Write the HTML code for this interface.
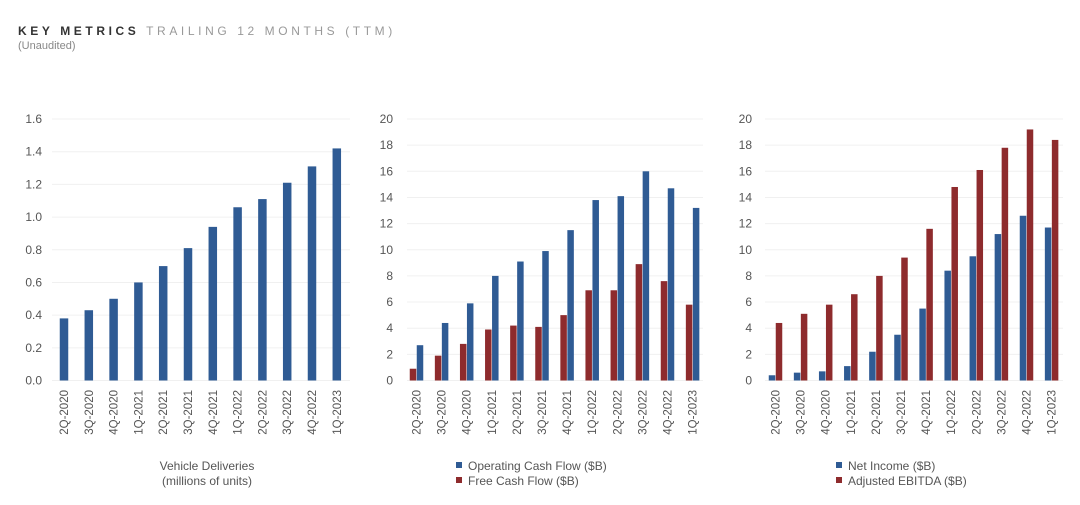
<!DOCTYPE html>
<html><head><meta charset="utf-8"><style>
body{margin:0;background:#fff;width:1080px;height:505px;overflow:hidden;font-family:"Liberation Sans",sans-serif}
svg{display:block}
</style></head><body>
<svg id="s" width="1080" height="505">
<text x="18" y="35" font-size="12" letter-spacing="3.6"><tspan fill="#333" font-weight="bold">KEY METRICS</tspan><tspan fill="#999"> TRAILING 12 MONTHS (TTM)</tspan></text>
<text x="18" y="49" font-size="11" fill="#888">(Unaudited)</text>
</svg>
<script>
const categories=["2Q-2020","3Q-2020","4Q-2020","1Q-2021","2Q-2021","3Q-2021","4Q-2021","1Q-2022","2Q-2022","3Q-2022","4Q-2022","1Q-2023"];
const deliveries=[0.38,0.43,0.50,0.60,0.70,0.81,0.94,1.06,1.11,1.21,1.31,1.42];
const ocf=[2.7,4.4,5.9,8.0,9.1,9.9,11.5,13.8,14.1,16.0,14.7,13.2];
const fcf=[0.9,1.9,2.8,3.9,4.2,4.1,5.0,6.9,6.9,8.9,7.6,5.8];
const netIncome=[0.4,0.6,0.7,1.1,2.2,3.5,5.5,8.4,9.5,11.2,12.6,11.7];
const ebitda=[4.4,5.1,5.8,6.6,8.0,9.4,11.6,14.8,16.1,17.8,19.2,18.4];
const ticks1=["0.0","0.2","0.4","0.6","0.8","1.0","1.2","1.4","1.6"];
const ticks2=["0","2","4","6","8","10","12","14","16","18","20"];
const NS="http://www.w3.org/2000/svg",svg=document.getElementById('s');
const BLUE="#2f5b94",RED="#8e2b2d";
function el(t,a,txt){const e=document.createElementNS(NS,t);for(const k in a)e.setAttribute(k,a[k]);if(txt!=null)e.textContent=txt;svg.appendChild(e);return e;}
const Y0=380.5,YT=119;
function chart(cfg){
  const yScale=v=>Y0-(v/cfg.max)*(Y0-YT);
  cfg.ticks.forEach(t=>{const y=yScale(parseFloat(t));
    const g=el('line',{x1:cfg.gx0,x2:cfg.gx1,y1:y,y2:y,stroke:'#f0f0f0','stroke-width':1});
    
    const l=el('text',{x:cfg.lx,y:y+4,'font-size':12,fill:'#555','text-anchor':'end'},t);
    });
  const xC=i=>cfg.c0+i*cfg.step;
  categories.forEach((c,i)=>{
    cfg.series.forEach((s,j)=>{const v=s.data[i];const x=xC(i)+s.off;
      const r=el('rect',{x:x-s.w/2,y:yScale(v),width:s.w,height:Y0-yScale(v),fill:s.color});
      });
    const tx=xC(i)+cfg.labOff;
    const t=el('text',{x:tx+4,y:390,'font-size':11.5,fill:'#555','text-anchor':'end',transform:`rotate(-90 ${tx+4} 390)`},c);
    
  });
}
chart({max:1.6,ticks:ticks1,gx0:52,gx1:350,lx:42,c0:64,step:24.8,labOff:0,
  series:[{name:'deliveries',data:deliveries,color:BLUE,off:0,w:8.5}]});
chart({max:20,ticks:ticks2,gx0:407,gx1:703,lx:393,c0:416.5,step:25.1,labOff:0,
  series:[{name:'fcf',data:fcf,color:RED,off:-3.5,w:6.5},{name:'ocf',data:ocf,color:BLUE,off:3.5,w:6.5}]});
chart({max:20,ticks:ticks2,gx0:765,gx1:1063,lx:752,c0:775.5,step:25.1,labOff:0,
  series:[{name:'net-income',data:netIncome,color:BLUE,off:-3.5,w:6.5},{name:'ebitda',data:ebitda,color:RED,off:3.5,w:6.5}]});
function txt(x,y,s,name,anchor){const t=el('text',{x:x,y:y,'font-size':12,fill:'#555','text-anchor':anchor||'start'},s);
  }
txt(207,470,"Vehicle Deliveries","x-axis-title","middle");
txt(207,485,"(millions of units)","x-axis-subtitle","middle");
function leg(x,y,color,label,name){const r=el('rect',{x:x,y:y-8,width:6,height:6,fill:color});
  
  txt(x+12,y,label,name);}
leg(456,470,BLUE,"Operating Cash Flow ($B)","legend-ocf");
leg(456,485,RED,"Free Cash Flow ($B)","legend-fcf");
leg(836,470,BLUE,"Net Income ($B)","legend-net-income");
leg(836,485,RED,"Adjusted EBITDA ($B)","legend-ebitda");
</script>
</body></html>
